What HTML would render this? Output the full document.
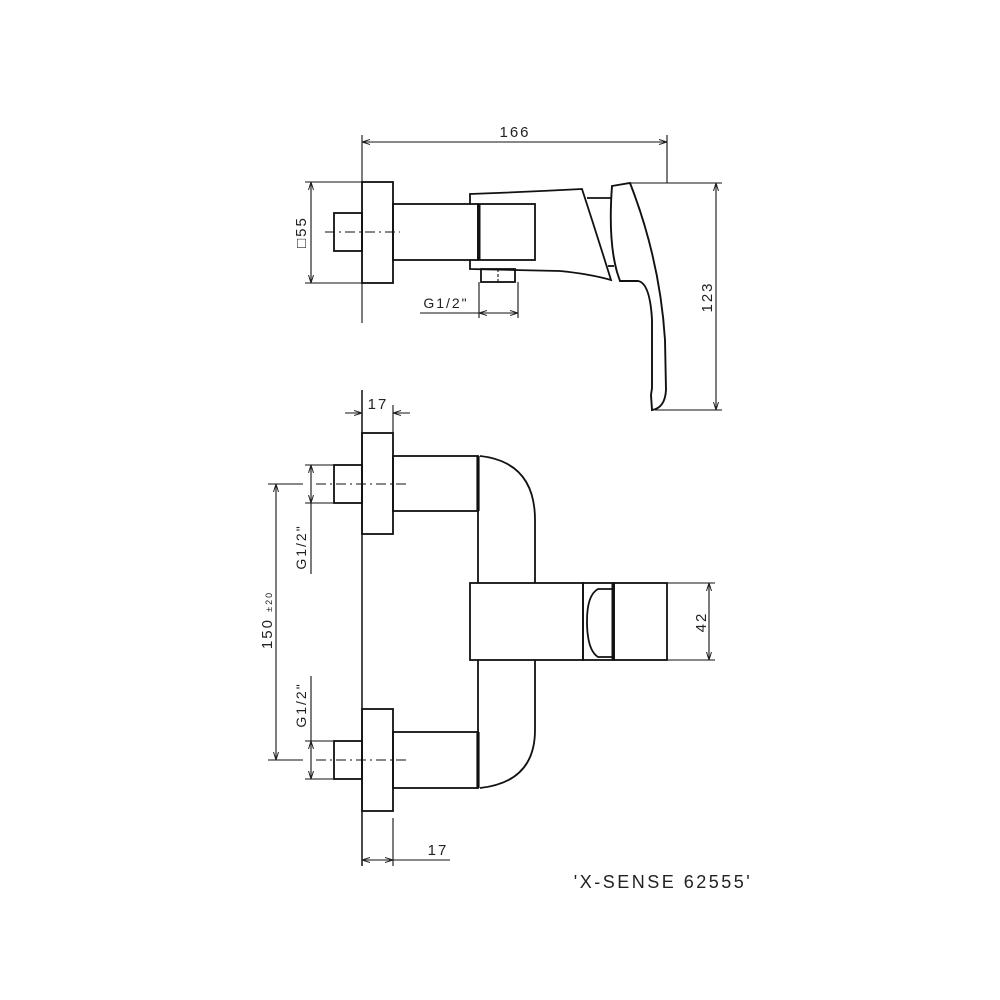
<!DOCTYPE html>
<html><head><meta charset="utf-8"><style>
html,body{margin:0;padding:0;background:#fff}
svg{display:block}
text{font-family:"Liberation Sans",sans-serif;fill:#222;letter-spacing:2px}
</style></head><body>
<svg width="1000" height="1000" viewBox="0 0 1000 1000" xmlns="http://www.w3.org/2000/svg">
<defs>
<marker id="a" markerWidth="8" markerHeight="6" refX="8" refY="3" orient="auto-start-reverse" markerUnits="userSpaceOnUse"><path d="M0,0.5 L8,3 L0,5.5" fill="none" stroke="#222" stroke-width="1"/></marker>
</defs>
<g fill="none" stroke="#111" stroke-width="1.1">
<!-- TOP VIEW -->
<line x1="362" y1="135" x2="362" y2="323"/>
<line x1="667" y1="135" x2="667" y2="183"/>
<line x1="362" y1="142" x2="667" y2="142" marker-start="url(#a)" marker-end="url(#a)"/>
<line x1="305" y1="182" x2="362" y2="182"/>
<line x1="305" y1="283" x2="362" y2="283"/>
<line x1="311" y1="182" x2="311" y2="283" marker-start="url(#a)" marker-end="url(#a)"/>
<rect x="362" y="182" width="31" height="101" stroke-width="1.8"/>
<rect x="334" y="213" width="28" height="38" stroke-width="1.8"/>
<line x1="325" y1="232" x2="400" y2="232" stroke-dasharray="10,4,2,4"/>
<rect x="393" y="204" width="85" height="56" stroke-width="1.8"/>
<rect x="478" y="204" width="57" height="56" stroke-width="1.8"/>
<line x1="479" y1="204" x2="479" y2="260" stroke-width="3"/>
<path d="M470,204 L470,194 Q525,192 582,189 Q597,235 611,280 Q590,274 560,271 L470,269 L470,260" stroke-width="1.8"/>
<rect x="481" y="269" width="34" height="13" stroke-width="1.8"/>
<line x1="498" y1="269" x2="498" y2="282" stroke-dasharray="3,2"/>
<line x1="587" y1="198" x2="612" y2="198" stroke-width="1.8"/>
<line x1="608" y1="266" x2="614" y2="266" stroke-width="1.8"/>
<path d="M612,186 L630,183 Q660,260 665,340 L666,390 Q665,408 652,410 L651,395 L652,388 L652,320 Q650,283 638,281 L620,281 L617,272 Q608,240 612,186 Z" stroke-width="1.9"/>
<line x1="479" y1="282" x2="479" y2="318"/>
<line x1="518" y1="282" x2="518" y2="318"/>
<line x1="420" y1="313" x2="479" y2="313"/>
<line x1="479" y1="313" x2="518" y2="313" marker-start="url(#a)" marker-end="url(#a)"/>
<line x1="630" y1="183" x2="722" y2="183"/>
<line x1="655" y1="410" x2="722" y2="410"/>
<line x1="716" y1="183" x2="716" y2="410" marker-start="url(#a)" marker-end="url(#a)"/>
<!-- BOTTOM VIEW -->
<line x1="362" y1="390" x2="362" y2="866" stroke-width="1.5"/>
<line x1="393" y1="405" x2="393" y2="433"/>
<line x1="345" y1="413" x2="362" y2="413" marker-end="url(#a)"/>
<line x1="410" y1="413" x2="393" y2="413" marker-end="url(#a)"/>
<rect x="362" y="433" width="31" height="101" stroke-width="1.8"/>
<rect x="334" y="465" width="28" height="38" stroke-width="1.8"/>
<line x1="316" y1="484" x2="410" y2="484" stroke-dasharray="10,4,2,4"/>
<rect x="393" y="456" width="85" height="55" stroke-width="1.8"/>
<line x1="478" y1="456" x2="478" y2="511" stroke-width="3.2"/>
<path d="M480,456 Q535,462 535,520 L535,583" stroke-width="1.8"/>
<line x1="478" y1="511" x2="478" y2="583" stroke-width="1.8"/>
<rect x="470" y="583" width="113" height="77" stroke-width="1.8"/>
<rect x="583" y="583" width="31" height="77" stroke-width="1.8"/>
<rect x="614" y="583" width="53" height="77" stroke-width="1.8"/>
<path d="M613,589 L598,589 Q587,595 587,621 Q587,650 598,657 L613,657" stroke-width="1.8"/>
<line x1="613" y1="583" x2="613" y2="660" stroke-width="3"/>
<line x1="667" y1="583" x2="715" y2="583"/>
<line x1="667" y1="660" x2="715" y2="660"/>
<line x1="709" y1="583" x2="709" y2="660" marker-start="url(#a)" marker-end="url(#a)"/>
<path d="M535,660 L535,730 Q535,782 480,788" stroke-width="1.8"/>
<line x1="478" y1="660" x2="478" y2="732" stroke-width="1.8"/>
<rect x="393" y="732" width="85" height="56" stroke-width="1.8"/>
<line x1="478" y1="732" x2="478" y2="788" stroke-width="3.2"/>
<rect x="362" y="709" width="31" height="102" stroke-width="1.8"/>
<rect x="334" y="741" width="28" height="38" stroke-width="1.8"/>
<line x1="316" y1="760" x2="410" y2="760" stroke-dasharray="10,4,2,4"/>
<line x1="305" y1="465" x2="334" y2="465"/>
<line x1="305" y1="503" x2="334" y2="503"/>
<line x1="311" y1="465" x2="311" y2="503" marker-start="url(#a)" marker-end="url(#a)"/>
<line x1="311" y1="503" x2="311" y2="574"/>
<line x1="305" y1="741" x2="334" y2="741"/>
<line x1="305" y1="779" x2="334" y2="779"/>
<line x1="311" y1="741" x2="311" y2="779" marker-start="url(#a)" marker-end="url(#a)"/>
<line x1="311" y1="676" x2="311" y2="741"/>
<line x1="268" y1="484" x2="303" y2="484"/>
<line x1="268" y1="760" x2="303" y2="760"/>
<line x1="276" y1="484" x2="276" y2="760" marker-start="url(#a)" marker-end="url(#a)"/>
<line x1="393" y1="818" x2="393" y2="866"/>
<line x1="362" y1="860" x2="393" y2="860" marker-start="url(#a)" marker-end="url(#a)"/>
<line x1="393" y1="860" x2="450" y2="860"/>
</g>
<text x="515" y="137" text-anchor="middle" style="font-size:15px">166</text>
<text x="446" y="308" text-anchor="middle" style="font-size:14px">G1/2"</text>
<text transform="translate(306,232) rotate(-90)" text-anchor="middle" style="font-size:15px">□55</text>
<text transform="translate(712,297) rotate(-90)" text-anchor="middle" style="font-size:15px">123</text>
<text x="378" y="409" text-anchor="middle" style="font-size:15px">17</text>
<text x="438" y="855" text-anchor="middle" style="font-size:15px">17</text>
<text transform="translate(706,622) rotate(-90)" text-anchor="middle" style="font-size:15px">42</text>
<text transform="translate(306,547) rotate(-90)" text-anchor="middle" style="font-size:14px">G1/2"</text>
<text transform="translate(306,705) rotate(-90)" text-anchor="middle" style="font-size:14px">G1/2"</text>
<text transform="translate(272,620) rotate(-90)" text-anchor="middle" style="font-size:15px">150 <tspan style="font-size:9px">±20</tspan></text>
<text x="663" y="888" text-anchor="middle" style="font-size:18px;letter-spacing:2.5px">'X-SENSE 62555'</text>
</svg>
</body></html>
